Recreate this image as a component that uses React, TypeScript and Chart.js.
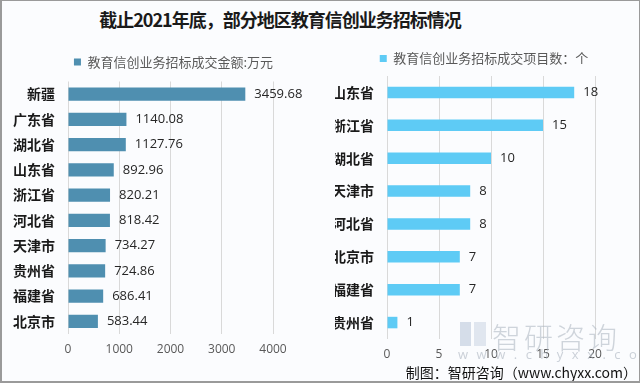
import React, { useEffect, useRef } from 'react';
import { Chart, registerables } from 'chart.js';

Chart.register(...registerables);

const title = '截止2021年底，部分地区教育信创业务招标情况';
const amountLabel = '教育信创业务招标成交金额:万元';
const amountCategories = ['新疆', '广东省', '湖北省', '山东省', '浙江省', '河北省', '天津市', '贵州省', '福建省', '北京市'];
const amountValues = [3459.68, 1140.08, 1127.76, 892.96, 820.21, 818.42, 734.27, 724.86, 686.41, 583.44];
const amountTicks = [0, 1000, 2000, 3000, 4000];

const countLabel = '教育信创业务招标成交项目数：个';
const countCategories = ['山东省', '浙江省', '湖北省', '天津市', '河北省', '北京市', '福建省', '贵州省'];
const countValues = [18, 15, 10, 8, 8, 7, 7, 1];
const countTicks = [0, 5, 10, 15, 20];

const sourceText = '制图：智研咨询（www.chyxx.com）';
const watermarkName = '智研咨询';
const watermarkUrl = 'www.chyxx.com';

const CJK = '"Noto Sans CJK SC", "Noto Sans", sans-serif';
const NUM = '"Open Sans", "Noto Sans", sans-serif';

const valueLabels = {
  id: 'valueLabels',
  afterDatasetsDraw(chart: any, _args: any, opts: any) {
    const { ctx } = chart;
    ctx.save();
    ctx.font = `${opts.size}px ${NUM}`;
    ctx.fillStyle = opts.color;
    ctx.textBaseline = 'middle';
    ctx.textAlign = 'left';
    chart.data.datasets.forEach((ds: any, i: number) => {
      const meta = chart.getDatasetMeta(i);
      meta.data.forEach((el: any, j: number) => {
        const v = ds.data[j] as number;
        ctx.fillText(v.toFixed(opts.decimals), el.x + opts.offset, el.y);
      });
    });
    ctx.restore();
  },
};

// moves the legend box after layout (position only)
const legendShift = {
  id: 'legendShift',
  afterLayout(chart: any, _args: any, opts: any) {
    const l = chart.legend;
    if (!l) return;
    l.left += opts.dx;
    l.right += opts.dx;
    l.top += opts.dy;
    l.bottom += opts.dy;
  },
};

function makeConfig(p: {
  labels: string[];
  values: number[];
  ticks: number[];
  legend: string;
  color: string;
  barPct: number;
  axisWidth: number;
  padRight: number;
  legendPad: number;
  dx: number;
  dy: number;
  decimals: number;
}): any {
  return {
    type: 'bar',
    data: {
      labels: p.labels,
      datasets: [
        {
          label: p.legend,
          data: p.values,
          backgroundColor: p.color,
          borderWidth: 0,
          barPercentage: p.barPct,
          categoryPercentage: 1,
        },
      ],
    },
    plugins: [valueLabels, legendShift],
    options: {
      indexAxis: 'y',
      responsive: false,
      animation: false,
      devicePixelRatio: 1,
      layout: { padding: { left: 0, right: p.padRight, top: 0, bottom: 0 } },
      plugins: {
        legend: {
          display: true,
          position: 'top',
          align: 'center',
          labels: {
            boxWidth: 7,
            boxHeight: 7,
            padding: p.legendPad,
            color: '#595959',
            font: { size: 13, family: CJK },
          },
        },
        legendShift: { dx: p.dx, dy: p.dy },
        tooltip: { enabled: false },
        valueLabels: { size: 13, color: '#262626', offset: 9, decimals: p.decimals },
      },
      scales: {
        x: {
          min: p.ticks[0],
          max: p.ticks[p.ticks.length - 1],
          ticks: {
            stepSize: p.ticks[1] - p.ticks[0],
            color: '#595959',
            font: { size: 12, family: NUM },
            padding: 8,
            callback: (v: any) => String(v),
          },
          grid: { color: '#d9d9d9', drawTicks: false },
          border: { display: false },
          afterFit: (s: any) => {
            s.height = 30;
          },
        },
        y: {
          ticks: {
            color: '#1a1a1a',
            font: { size: 14, weight: 'bold', family: CJK },
            padding: 13,
          },
          grid: { display: false, drawTicks: false },
          border: { display: false },
          afterFit: (s: any) => {
            s.width = p.axisWidth;
          },
        },
      },
    },
  };
}

function BarCanvas(props: { left: number; top: number; width: number; height: number; config: any }) {
  const ref = useRef<HTMLCanvasElement | null>(null);
  useEffect(() => {
    if (!ref.current) return;
    const chart = new Chart(ref.current, props.config);
    return () => chart.destroy();
  }, []);
  return (
    <canvas
      ref={ref}
      width={props.width}
      height={props.height}
      style={{ position: 'absolute', left: props.left, top: props.top, width: props.width, height: props.height }}
    />
  );
}

export default function App() {
  const leftConfig = makeConfig({
    labels: amountCategories,
    values: amountValues,
    ticks: amountTicks,
    legend: amountLabel,
    color: '#4f8fb0',
    barPct: 0.52,
    axisWidth: 68,
    padRight: 65,
    legendPad: 19.5,
    dx: 37,
    dy: -3,
    decimals: 2,
  });
  const rightConfig = makeConfig({
    labels: countCategories,
    values: countValues,
    ticks: countTicks,
    legend: countLabel,
    color: '#5ecbf5',
    barPct: 0.35,
    axisWidth: 52,
    padRight: 34,
    legendPad: 11,
    dx: 19,
    dy: -1,
    decimals: 0,
  });
  return (
    <div
      style={{
        position: 'fixed',
        left: 0,
        top: 0,
        width: 640,
        height: 383,
        boxSizing: 'border-box',
        border: '1px solid #9a9a9a',
        borderLeftWidth: 2,
        borderBottomWidth: 2,
        background: '#fbfcfe',
        overflow: 'hidden',
      }}
    >
      <div
        style={{
          position: 'absolute',
          left: 0,
          width: 556,
          top: 4,
          textAlign: 'center',
          fontFamily: CJK,
          fontWeight: 'bold',
          fontSize: 18,
          letterSpacing: -1,
          color: '#1a1a1a',
          lineHeight: '28px',
        }}
      >
        {title}
      </div>
      <BarCanvas left={-2} top={38} width={338} height={325} config={leftConfig} />
      <BarCanvas left={333} top={41} width={294} height={327} config={rightConfig} />
      <div
        style={{
          position: 'absolute',
          left: 458,
          top: 321,
          width: 11,
          height: 24,
          background: 'rgba(175,190,212,0.5)',
          pointerEvents: 'none',
        }}
      />
      <div
        style={{
          position: 'absolute',
          left: 472,
          top: 321,
          width: 12,
          height: 24,
          background: 'rgba(175,190,212,0.35)',
          pointerEvents: 'none',
        }}
      />
      <div
        style={{
          position: 'absolute',
          left: 490,
          top: 314,
          fontFamily: CJK,
          fontWeight: 300,
          fontSize: 29,
          color: 'rgba(170,178,190,0.55)',
          letterSpacing: 3,
          pointerEvents: 'none',
        }}
      >
        {watermarkName}
      </div>
      <div
        style={{
          position: 'absolute',
          left: 456,
          top: 344,
          fontFamily: NUM,
          fontSize: 13,
          color: 'rgba(170,178,190,0.6)',
          letterSpacing: 8.5,
          pointerEvents: 'none',
        }}
      >
        {watermarkUrl}
      </div>
      <div
        style={{
          position: 'absolute',
          right: 2,
          top: 361,
          fontFamily: CJK,
          fontSize: 14,
          color: '#111',
          lineHeight: '20px',
          whiteSpace: 'nowrap',
        }}
      >
        {sourceText}
      </div>
    </div>
  );
}
